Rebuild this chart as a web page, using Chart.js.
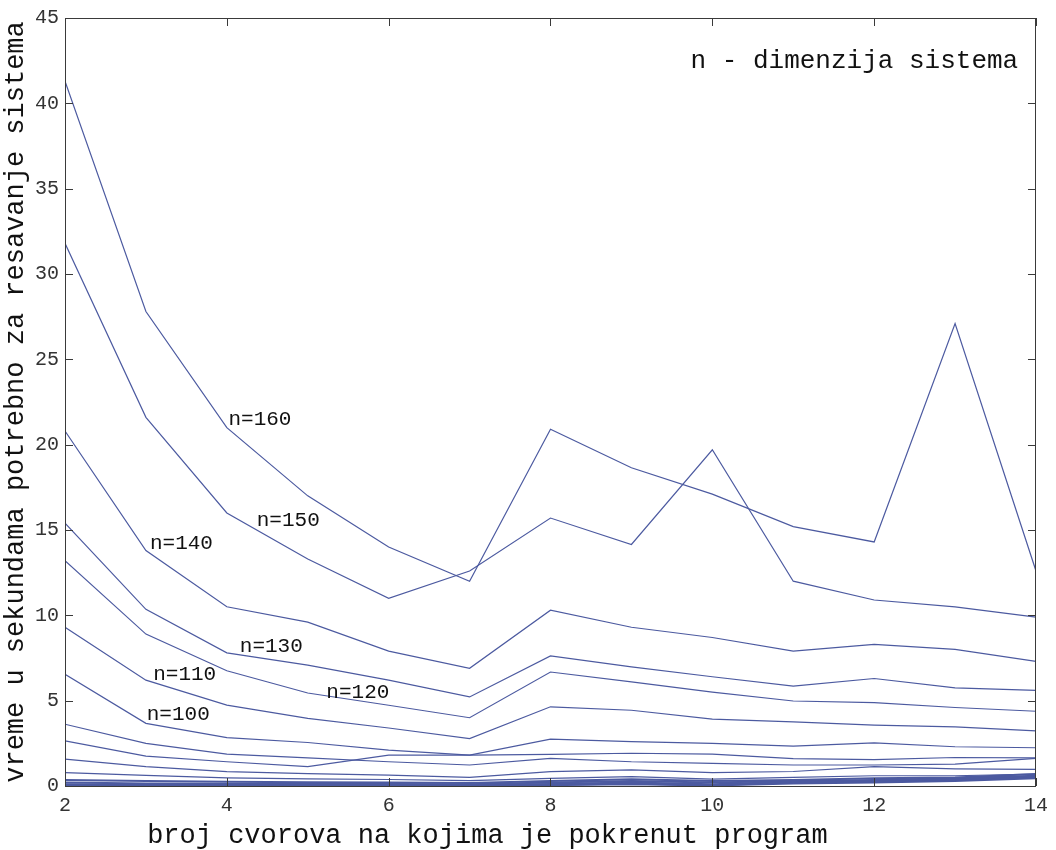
<!DOCTYPE html>
<html>
<head>
<meta charset="utf-8">
<script src="https://cdn.jsdelivr.net/npm/chart.js@4/dist/chart.umd.min.js"></script>
<style>
  html, body { margin: 0; padding: 0; background: #fff; }
  #wrap { width: 1056px; height: 850px; }
</style>
</head>
<body>
<div id="wrap"><canvas id="graf"></canvas></div>
<script>
// broj cvorova (x osa)
const cvorovi = [2, 3, 4, 5, 6, 7, 8, 9, 10, 11, 12, 13, 14];

// vreme u sekundama, po dimenziji sistema
const n160 = [41.3, 27.8, 21.0, 17.0, 14.0, 12.0, 20.9, 18.65, 17.1, 15.2, 14.3, 27.1, 12.6];
const n150 = [31.8, 21.6, 16.0, 13.3, 11.0, 12.6, 15.7, 14.15, 19.7, 12.0, 10.9, 10.5, 9.9];
const n140 = [20.8, 13.8, 10.5, 9.6, 7.9, 6.9, 10.3, 9.3, 8.7, 7.9, 8.3, 8.0, 7.3];
const n130 = [15.4, 10.35, 7.8, 7.08, 6.2, 5.22, 7.62, 6.98, 6.4, 5.85, 6.3, 5.75, 5.6];
const n120 = [13.2, 8.9, 6.75, 5.45, 4.73, 4.0, 6.68, 6.1, 5.5, 4.98, 4.89, 4.6, 4.38];
const n110 = [9.3, 6.2, 4.74, 3.96, 3.4, 2.78, 4.64, 4.44, 3.92, 3.76, 3.57, 3.47, 3.23];
const n100 = [6.55, 3.67, 2.83, 2.55, 2.1, 1.81, 2.75, 2.6, 2.5, 2.34, 2.53, 2.3, 2.24];
const n90  = [3.62, 2.5, 1.87, 1.65, 1.42, 1.23, 1.62, 1.42, 1.33, 1.23, 1.23, 1.28, 1.62];
const n80  = [2.65, 1.75, 1.42, 1.13, 1.81, 1.81, 1.85, 1.92, 1.87, 1.6, 1.55, 1.67, 1.65];
const n70  = [1.58, 1.13, 0.84, 0.72, 0.64, 0.5, 0.84, 0.94, 0.78, 0.85, 1.13, 1.0, 0.97];
const n60  = [0.78, 0.62, 0.48, 0.42, 0.38, 0.32, 0.45, 0.55, 0.4, 0.5, 0.6, 0.6, 0.7];
const n50  = [0.35, 0.3, 0.25, 0.22, 0.2, 0.18, 0.3, 0.4, 0.3, 0.35, 0.45, 0.5, 0.7];
const n40  = [0.2, 0.15, 0.13, 0.12, 0.11, 0.1, 0.2, 0.3, 0.2, 0.3, 0.35, 0.45, 0.6];
const n30  = [0.1, 0.08, 0.07, 0.06, 0.06, 0.06, 0.12, 0.2, 0.1, 0.25, 0.3, 0.4, 0.55];
const n20  = [0.05, 0.04, 0.03, 0.03, 0.03, 0.04, 0.08, 0.15, 0.05, 0.2, 0.25, 0.35, 0.5];
const n10  = [0.02, 0.02, 0.02, 0.02, 0.02, 0.02, 0.05, 0.1, 0.03, 0.15, 0.2, 0.3, 0.45];

const serije = [n160, n150, n140, n130, n120, n110, n100, n90, n80, n70, n60, n50, n40, n30, n20, n10];
const imena = ['n=160', 'n=150', 'n=140', 'n=130', 'n=120', 'n=110', 'n=100',
               'n=90', 'n=80', 'n=70', 'n=60', 'n=50', 'n=40', 'n=30', 'n=20', 'n=10'];

// oznake na grafiku (u jedinicama podataka)
const oznake = [
    { tekst: 'n=160', x: 4.02, y: 21.5 },
    { tekst: 'n=150', x: 4.37, y: 15.55 },
    { tekst: 'n=140', x: 3.05, y: 14.2 },
    { tekst: 'n=130', x: 4.16, y: 8.2 },
    { tekst: 'n=120', x: 5.23, y: 5.5 },
    { tekst: 'n=110', x: 3.09, y: 6.55 },
    { tekst: 'n=100', x: 3.01, y: 4.2 }
];
const naslovUnutra = 'n - dimenzija sistema';
const naslovX = 'broj cvorova na kojima je pokrenut program';

const BOJA_LINIJE = '#4c5aa0';
const FONT = 'Liberation Mono, DejaVu Sans Mono, monospace';

// okvir oko grafika sa crticama ka unutra (kao u MATLAB-u)
const okvirPlugin = {
    id: 'okvir',
    afterDatasetsDraw(chart) {
        const { ctx, chartArea: a, scales } = chart;
        const duz = 8;
        ctx.save();
        ctx.strokeStyle = '#3a3a3a';
        ctx.lineWidth = 1;
        ctx.strokeRect(a.left + 0.5, a.top + 0.5, a.right - a.left - 1, a.bottom - a.top);
        ctx.beginPath();
        scales.x.ticks.forEach(t => {
            const px = Math.round(scales.x.getPixelForValue(t.value)) + 0.5;
            ctx.moveTo(px, a.bottom); ctx.lineTo(px, a.bottom - duz);
            ctx.moveTo(px, a.top); ctx.lineTo(px, a.top + duz);
        });
        scales.y.ticks.forEach(t => {
            const py = Math.round(scales.y.getPixelForValue(t.value)) + 0.5;
            ctx.moveTo(a.left, py); ctx.lineTo(a.left + duz, py);
            ctx.moveTo(a.right, py); ctx.lineTo(a.right - duz, py);
        });
        ctx.stroke();

        // oznake dimenzija
        ctx.fillStyle = '#111';
        ctx.font = '21px ' + FONT;
        ctx.textAlign = 'left';
        ctx.textBaseline = 'middle';
        oznake.forEach(o => {
            ctx.fillText(o.tekst, scales.x.getPixelForValue(o.x), scales.y.getPixelForValue(o.y));
        });
        ctx.font = '26px ' + FONT;
        ctx.textAlign = 'right';
        ctx.fillText(naslovUnutra, scales.x.getPixelForValue(13.78), scales.y.getPixelForValue(42.45));

        // naslov x ose - u originalu je pomeren ulevo od sredine
        ctx.font = '27px ' + FONT;
        ctx.textAlign = 'center';
        ctx.fillText(naslovX, a.left + (a.right - a.left) * 0.435, a.bottom + 50);
        ctx.restore();
    }
};

new Chart(document.getElementById('graf'), {
    type: 'line',
    data: {
        datasets: serije.map((s, i) => ({
            label: imena[i],
            data: s.map((v, j) => ({ x: cvorovi[j], y: v })),
            borderColor: BOJA_LINIJE,
            borderWidth: i >= 11 ? 2 : 1.2, // najmanje dimenzije se stapaju u debelu liniju
            pointRadius: 0,
            tension: 0,
            fill: false
        }))
    },
    options: {
        responsive: true,
        maintainAspectRatio: false,
        animation: false,
        layout: { padding: { top: 17, right: 18, left: 0, bottom: 0 } },
        plugins: {
            legend: { display: false },
            tooltip: { enabled: false }
        },
        scales: {
            x: {
                type: 'linear',
                min: 2, max: 14,
                grid: { display: false, drawTicks: false },
                border: { display: false },
                ticks: {
                    stepSize: 2,
                    padding: 8,
                    color: '#333',
                    font: { family: FONT, size: 20 }
                },
                afterFit(s) { s.height = 64; }
            },
            y: {
                type: 'linear',
                min: 0, max: 45,
                grid: { display: false, drawTicks: false },
                border: { display: false },
                ticks: {
                    stepSize: 5,
                    padding: 6,
                    color: '#333',
                    font: { family: FONT, size: 20 }
                },
                title: {
                    display: true,
                    text: 'vreme u sekundama potrebno za resavanje sistema',
                    color: '#111',
                    padding: { top: 0, bottom: 2 },
                    font: { family: FONT, size: 27 }
                },
                afterFit(s) { s.width = 65; }
            }
        }
    },
    plugins: [okvirPlugin]
});
</script>
</body>
</html>
